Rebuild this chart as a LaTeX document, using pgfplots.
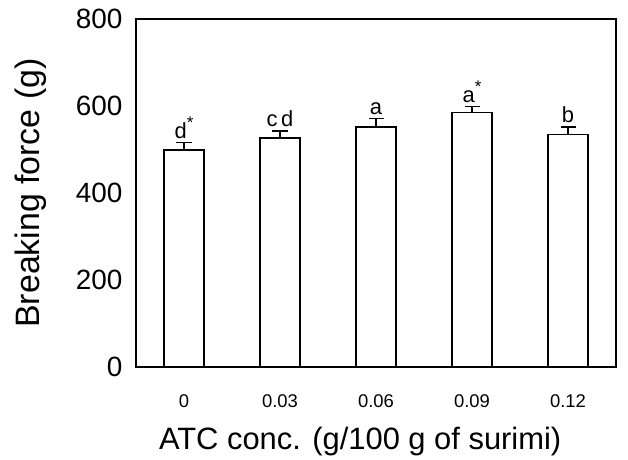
\documentclass[border=0pt]{standalone}
\usepackage{fontspec}
\setmainfont{Liberation Sans}
\usepackage{pgfplots}
\usepackage{pgfplotstable}
\pgfplotsset{compat=1.18}
\newcommand{\st}{\raisebox{0.42em}{\fontsize{17}{17}\selectfont *}}
\pgfplotstableread{
x y err
0 499 17
1 527 16
2 552 19
3 585 14
4 534 18
}\bars
\pgfplotstableread{
x y lab
0 516 d\st
1 543 c\,d
2 571 a
3 599 a\st
4 552 b
}\letters
\begin{document}
\begin{tikzpicture}
\path[use as bounding box] (-136bp,-93bp) rectangle (492bp,367bp);
\begin{axis}[
  scale only axis,
  width=480bp, height=348bp,
  xmin=-0.5, xmax=4.5,
  ymin=0, ymax=800,
  xtick={0,1,2,3,4},
  xticklabels={0,0.03,0.06,0.09,0.12},
  ytick={0,200,400,600,800},
  major tick length=0pt,
  axis line style={line width=1.5bp},
  /pgf/number format/assume math mode=true,
  xticklabel style={font=\fontsize{18.5}{18.5}\selectfont, anchor=center, yshift=-34bp},
  yticklabel style={font=\fontsize{28}{28}\selectfont, anchor=east, xshift=-10bp},
  xlabel={ATC conc. (g/100 g of surimi)},
  ylabel={Breaking force (g)},
  xlabel style={font=\fontsize{31}{31}\selectfont, at={(axis description cs:0.467,-0.213)}, anchor=center},
  ylabel style={font=\fontsize{34}{34}\selectfont, at={(axis description cs:-0.219,0.5)}, anchor=center},
]
\addplot[ybar, bar width=40bp, fill=white, draw=black, line width=1.5bp,
  error bars/.cd, y dir=plus, y explicit,
  error bar style={line width=1.5bp, black},
  error mark options={rotate=90, mark size=7.5bp, line width=1.5bp, black}]
  table[x=x, y=y, y error=err] {\bars};
\addplot[draw=none, mark=none, nodes near coords, point meta=explicit symbolic,
  every node near coord/.append style={anchor=south, inner sep=0pt, yshift=4bp, font=\fontsize{22}{22}\selectfont}]
  table[x=x, y=y, meta=lab] {\letters};
\end{axis}
\end{tikzpicture}
\end{document}
